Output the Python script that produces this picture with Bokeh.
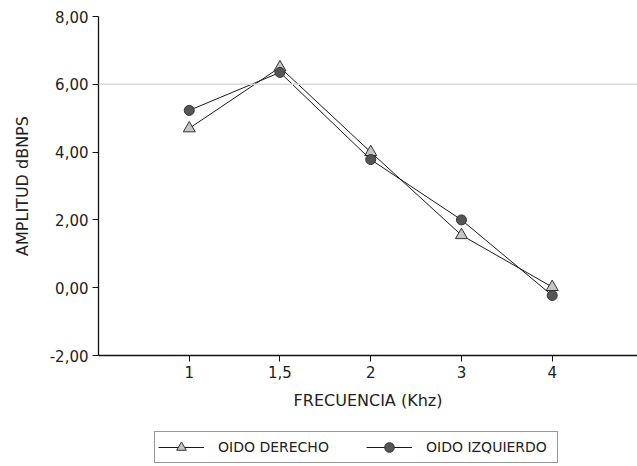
from bokeh.plotting import figure
from bokeh.layouts import column
from bokeh.models import Range1d, FixedTicker, CustomJSTickFormatter, Span, Legend, LegendItem
from bokeh.embed import file_html
from bokeh.resources import INLINE

# ---- data ----
freq_labels = ["1", "1,5", "2", "3", "4"]
oido_derecho = [4.70, 6.50, 4.00, 1.55, 0.02]
oido_izquierdo = [5.23, 6.35, 3.78, 2.00, -0.23]
y_ticks = [-2, 0, 2, 4, 6, 8]
ref_line = 6.0
series_names = ["OIDO DERECHO", "OIDO IZQUIERDO"]

x_pos = list(range(1, len(freq_labels) + 1))
FONT = "DejaVu Sans"

TRI = dict(marker="triangle", size=12, fill_color="#c4c4c4", line_color="#333333", line_width=1)
CIR = dict(marker="circle", size=10, fill_color="#555555", line_color="#333333", line_width=1)
LINE = dict(line_color="#1a1a1a", line_width=1)

p = figure(width=637, height=416, output_backend="svg", toolbar_location=None,
           x_range=Range1d(0, 5.94), y_range=Range1d(y_ticks[0], y_ticks[-1]),
           min_border_left=98, min_border_right=0, min_border_top=16,
           min_border_bottom=61, background_fill_color="white",
           border_fill_color="white")
p.outline_line_color = None
p.xgrid.visible = False
p.ygrid.visible = False

p.add_layout(Span(location=ref_line, dimension="width", line_color="#d9d9d9", line_width=1.5))

p.line(x_pos, oido_derecho, **LINE)
p.scatter(x_pos, oido_derecho, **TRI)
p.line(x_pos, oido_izquierdo, **LINE)
p.scatter(x_pos, oido_izquierdo, **CIR)

# axes
for ax in (p.xaxis[0], p.yaxis[0]):
    ax.axis_line_color = "#111111"
    ax.axis_line_width = 1.3
    ax.major_tick_line_color = "#111111"
    ax.major_tick_in = 0
    ax.major_tick_out = 6
    ax.minor_tick_line_color = None
    ax.major_label_text_font = FONT
    ax.major_label_text_font_size = "15px"
    ax.major_label_text_color = "#222222"
    ax.major_label_standoff = 4
    ax.axis_label_text_font = FONT
    ax.axis_label_text_font_size = "16px"
    ax.axis_label_text_font_style = "normal"
    ax.axis_label_text_color = "#222222"

p.xaxis.ticker = FixedTicker(ticks=x_pos)
p.xaxis.major_label_overrides = {x: lab for x, lab in zip(x_pos, freq_labels)}
p.xaxis.axis_label = "FRECUENCIA (Khz)"
p.xaxis.axis_label_standoff = 10

p.yaxis.ticker = FixedTicker(ticks=y_ticks)
p.yaxis.formatter = CustomJSTickFormatter(code="return tick.toFixed(2).replace('.', ',');")
p.yaxis.axis_label = "AMPLITUD dBNPS"
p.yaxis.axis_label_standoff = 15

# ---- legend strip below the chart (same series, drawn out of view; only the legend shows) ----
pl = figure(width=637, height=50, output_backend="svg", toolbar_location=None,
            x_range=Range1d(100, 101), y_range=Range1d(100, 101),
            x_axis_location=None, y_axis_location=None,
            min_border_left=0, min_border_right=0, min_border_top=0, min_border_bottom=0,
            background_fill_color="white", border_fill_color="white")
pl.outline_line_color = None
pl.xgrid.visible = False
pl.ygrid.visible = False
ll1 = pl.line(x_pos, oido_derecho, **LINE)
ls1 = pl.scatter(x_pos, oido_derecho, **TRI)
ll2 = pl.line(x_pos, oido_izquierdo, **LINE)
ls2 = pl.scatter(x_pos, oido_izquierdo, **CIR)

legend = Legend(items=[LegendItem(label=series_names[0], renderers=[ll1, ls1]),
                       LegendItem(label=series_names[1], renderers=[ll2, ls2])],
                orientation="horizontal", location=(56, 3),
                label_text_font=FONT, label_text_font_size="14px",
                label_text_color="#222222", label_width=128,
                glyph_width=46, glyph_height=24, label_standoff=14, spacing=20,
                padding=3, margin=0, border_line_color="#333333", border_line_width=1.3,
                background_fill_alpha=1.0)
pl.add_layout(legend, "center")

layout = column(p, pl, spacing=0)
open("out.html", "w").write(file_html(layout, INLINE))
